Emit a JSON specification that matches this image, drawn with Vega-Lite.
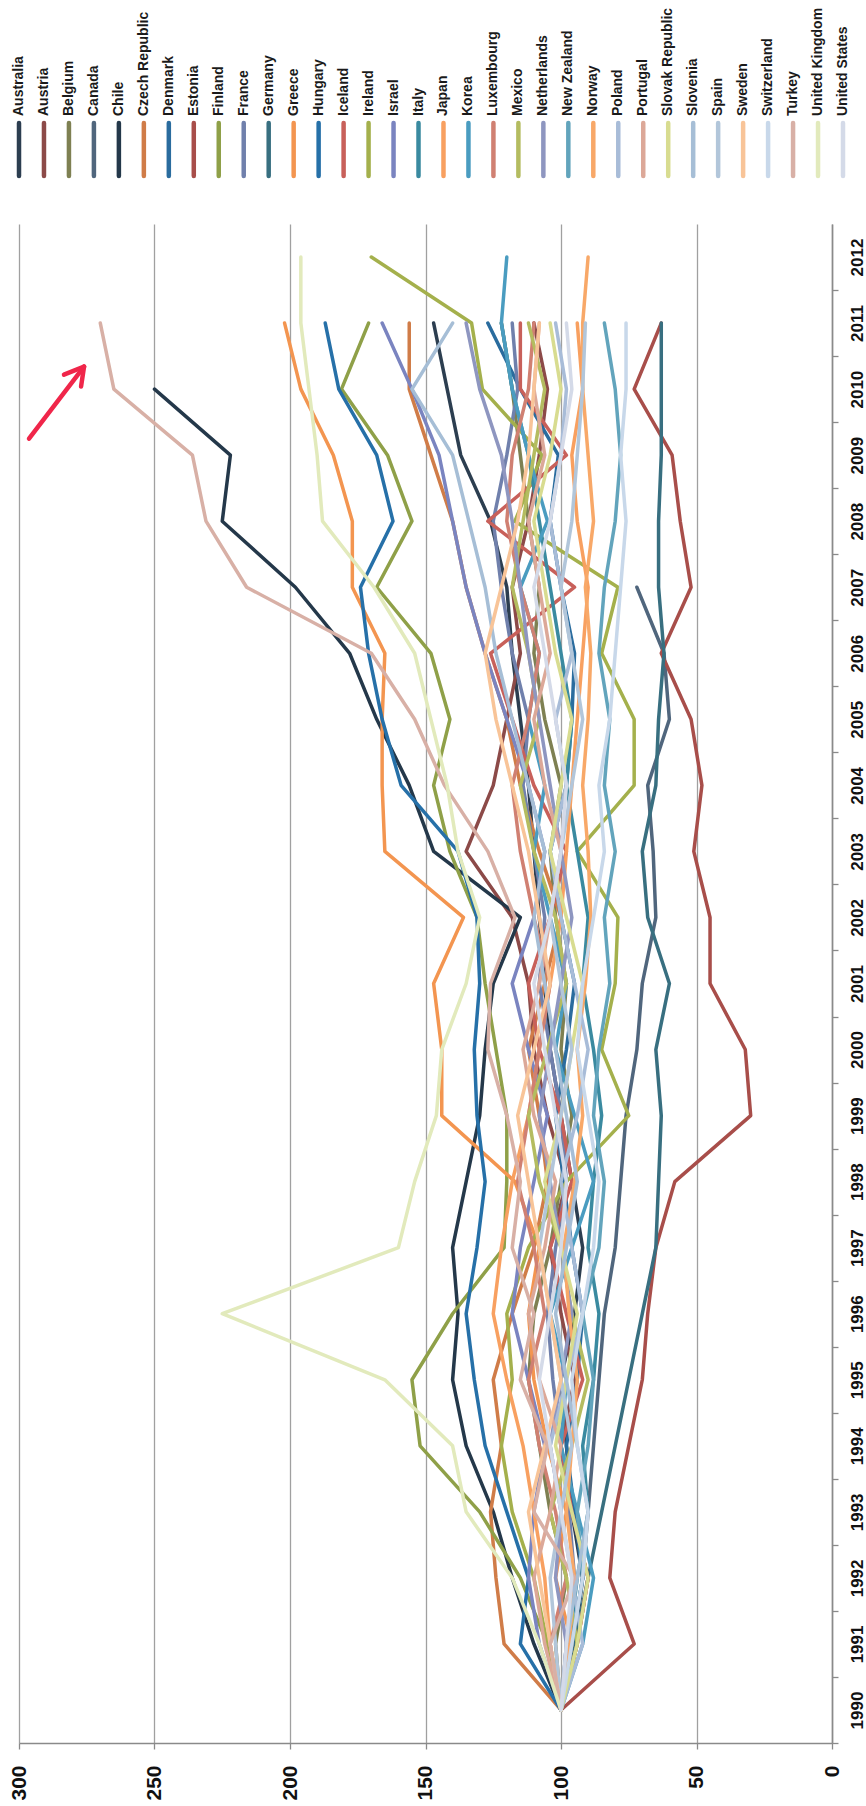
{
"$schema":"https://vega.github.io/schema/vega-lite/v6.json",
"background":"white",
"padding":{"left":8,"top":7,"right":0,"bottom":0},
"config":{"view":{"stroke":null},"font":"Liberation Sans"},
"spacing":45,
"datasets":{
"arrow":[{"value":296.3,"year":2009.25,"value2":276,"year2":2010.34},{"value":283.4,"year":2010.22,"value2":276,"year2":2010.34},{"value":277.1,"year":2010.04,"value2":276,"year2":2010.34}],
"series":[
{"country":"Australia","year":1990,"value":100},{"country":"Australia","year":1991,"value":95},{"country":"Australia","year":1992,"value":92},{"country":"Australia","year":1993,"value":96},{"country":"Australia","year":1994,"value":98},{"country":"Australia","year":1995,"value":100},{"country":"Australia","year":1996,"value":95},{"country":"Australia","year":1997,"value":92},{"country":"Australia","year":1998,"value":96},{"country":"Australia","year":1999,"value":100},{"country":"Australia","year":2000,"value":104},{"country":"Australia","year":2001,"value":106},{"country":"Australia","year":2002,"value":108},{"country":"Australia","year":2003,"value":110},{"country":"Australia","year":2004,"value":112},{"country":"Australia","year":2005,"value":115},{"country":"Australia","year":2006,"value":118},{"country":"Australia","year":2007,"value":120},{"country":"Australia","year":2008,"value":126},{"country":"Australia","year":2009,"value":137},{"country":"Australia","year":2010,"value":142},{"country":"Australia","year":2011,"value":147},
{"country":"Austria","year":1990,"value":100},{"country":"Austria","year":1991,"value":94},{"country":"Austria","year":1992,"value":90},{"country":"Austria","year":1993,"value":96},{"country":"Austria","year":1994,"value":100},{"country":"Austria","year":1995,"value":95},{"country":"Austria","year":1996,"value":100},{"country":"Austria","year":1997,"value":104},{"country":"Austria","year":1998,"value":98},{"country":"Austria","year":1999,"value":105},{"country":"Austria","year":2000,"value":110},{"country":"Austria","year":2001,"value":112},{"country":"Austria","year":2002,"value":118},{"country":"Austria","year":2003,"value":135},{"country":"Austria","year":2004,"value":125},{"country":"Austria","year":2005,"value":120},{"country":"Austria","year":2006,"value":115},{"country":"Austria","year":2007,"value":118},{"country":"Austria","year":2008,"value":112},{"country":"Austria","year":2009,"value":108},{"country":"Austria","year":2010,"value":105},{"country":"Austria","year":2011,"value":110},
{"country":"Belgium","year":1990,"value":100},{"country":"Belgium","year":1991,"value":102},{"country":"Belgium","year":1992,"value":98},{"country":"Belgium","year":1993,"value":104},{"country":"Belgium","year":1994,"value":108},{"country":"Belgium","year":1995,"value":112},{"country":"Belgium","year":1996,"value":110},{"country":"Belgium","year":1997,"value":104},{"country":"Belgium","year":1998,"value":100},{"country":"Belgium","year":1999,"value":96},{"country":"Belgium","year":2000,"value":100},{"country":"Belgium","year":2001,"value":98},{"country":"Belgium","year":2002,"value":102},{"country":"Belgium","year":2003,"value":104},{"country":"Belgium","year":2004,"value":100},{"country":"Belgium","year":2005,"value":106},{"country":"Belgium","year":2006,"value":110},{"country":"Belgium","year":2007,"value":108},{"country":"Belgium","year":2008,"value":112},{"country":"Belgium","year":2009,"value":115},{"country":"Belgium","year":2010,"value":118},{"country":"Belgium","year":2011,"value":122},
{"country":"Canada","year":1990,"value":100},{"country":"Canada","year":1991,"value":96},{"country":"Canada","year":1992,"value":92},{"country":"Canada","year":1993,"value":90},{"country":"Canada","year":1994,"value":88},{"country":"Canada","year":1995,"value":86},{"country":"Canada","year":1996,"value":84},{"country":"Canada","year":1997,"value":80},{"country":"Canada","year":1998,"value":78},{"country":"Canada","year":1999,"value":76},{"country":"Canada","year":2000,"value":72},{"country":"Canada","year":2001,"value":70},{"country":"Canada","year":2002,"value":65},{"country":"Canada","year":2003,"value":66},{"country":"Canada","year":2004,"value":68},{"country":"Canada","year":2005,"value":60},{"country":"Canada","year":2006,"value":62},{"country":"Canada","year":2007,"value":72},
{"country":"Chile","year":1990,"value":100},{"country":"Chile","year":1991,"value":110},{"country":"Chile","year":1992,"value":118},{"country":"Chile","year":1993,"value":125},{"country":"Chile","year":1994,"value":135},{"country":"Chile","year":1995,"value":140},{"country":"Chile","year":1996,"value":138},{"country":"Chile","year":1997,"value":140},{"country":"Chile","year":1998,"value":135},{"country":"Chile","year":1999,"value":130},{"country":"Chile","year":2000,"value":128},{"country":"Chile","year":2001,"value":125},{"country":"Chile","year":2002,"value":115},{"country":"Chile","year":2003,"value":147},{"country":"Chile","year":2004,"value":156},{"country":"Chile","year":2005,"value":168},{"country":"Chile","year":2006,"value":178},{"country":"Chile","year":2007,"value":198},{"country":"Chile","year":2008,"value":225},{"country":"Chile","year":2009,"value":222},{"country":"Chile","year":2010,"value":250},
{"country":"Czech Republic","year":1990,"value":100},{"country":"Czech Republic","year":1991,"value":121},{"country":"Czech Republic","year":1992,"value":124},{"country":"Czech Republic","year":1993,"value":126},{"country":"Czech Republic","year":1994,"value":122},{"country":"Czech Republic","year":1995,"value":125},{"country":"Czech Republic","year":1996,"value":118},{"country":"Czech Republic","year":1997,"value":110},{"country":"Czech Republic","year":1998,"value":105},{"country":"Czech Republic","year":1999,"value":108},{"country":"Czech Republic","year":2000,"value":112},{"country":"Czech Republic","year":2001,"value":106},{"country":"Czech Republic","year":2002,"value":100},{"country":"Czech Republic","year":2003,"value":108},{"country":"Czech Republic","year":2004,"value":115},{"country":"Czech Republic","year":2005,"value":120},{"country":"Czech Republic","year":2006,"value":128},{"country":"Czech Republic","year":2007,"value":135},{"country":"Czech Republic","year":2008,"value":140},{"country":"Czech Republic","year":2009,"value":148},{"country":"Czech Republic","year":2010,"value":156},{"country":"Czech Republic","year":2011,"value":156},
{"country":"Denmark","year":1990,"value":100},{"country":"Denmark","year":1991,"value":96},{"country":"Denmark","year":1992,"value":92},{"country":"Denmark","year":1993,"value":95},{"country":"Denmark","year":1994,"value":98},{"country":"Denmark","year":1995,"value":94},{"country":"Denmark","year":1996,"value":92},{"country":"Denmark","year":1997,"value":96},{"country":"Denmark","year":1998,"value":99},{"country":"Denmark","year":1999,"value":102},{"country":"Denmark","year":2000,"value":98},{"country":"Denmark","year":2001,"value":95},{"country":"Denmark","year":2002,"value":100},{"country":"Denmark","year":2003,"value":104},{"country":"Denmark","year":2004,"value":98},{"country":"Denmark","year":2005,"value":96},{"country":"Denmark","year":2006,"value":95},{"country":"Denmark","year":2007,"value":100},{"country":"Denmark","year":2008,"value":104},{"country":"Denmark","year":2009,"value":101},{"country":"Denmark","year":2010,"value":115},{"country":"Denmark","year":2011,"value":127},
{"country":"Estonia","year":1990,"value":100},{"country":"Estonia","year":1991,"value":73},{"country":"Estonia","year":1992,"value":82},{"country":"Estonia","year":1993,"value":80},{"country":"Estonia","year":1994,"value":75},{"country":"Estonia","year":1995,"value":70},{"country":"Estonia","year":1996,"value":68},{"country":"Estonia","year":1997,"value":65},{"country":"Estonia","year":1998,"value":58},{"country":"Estonia","year":1999,"value":30},{"country":"Estonia","year":2000,"value":32},{"country":"Estonia","year":2001,"value":45},{"country":"Estonia","year":2002,"value":45},{"country":"Estonia","year":2003,"value":51},{"country":"Estonia","year":2004,"value":48},{"country":"Estonia","year":2005,"value":52},{"country":"Estonia","year":2006,"value":63},{"country":"Estonia","year":2007,"value":52},{"country":"Estonia","year":2008,"value":56},{"country":"Estonia","year":2009,"value":59},{"country":"Estonia","year":2010,"value":73},{"country":"Estonia","year":2011,"value":63},
{"country":"Finland","year":1990,"value":100},{"country":"Finland","year":1991,"value":105},{"country":"Finland","year":1992,"value":115},{"country":"Finland","year":1993,"value":130},{"country":"Finland","year":1994,"value":152},{"country":"Finland","year":1995,"value":155},{"country":"Finland","year":1996,"value":140},{"country":"Finland","year":1997,"value":121},{"country":"Finland","year":1998,"value":120},{"country":"Finland","year":1999,"value":120},{"country":"Finland","year":2000,"value":124},{"country":"Finland","year":2001,"value":128},{"country":"Finland","year":2002,"value":131},{"country":"Finland","year":2003,"value":141},{"country":"Finland","year":2004,"value":147},{"country":"Finland","year":2005,"value":141},{"country":"Finland","year":2006,"value":148},{"country":"Finland","year":2007,"value":168},{"country":"Finland","year":2008,"value":155},{"country":"Finland","year":2009,"value":164},{"country":"Finland","year":2010,"value":181},{"country":"Finland","year":2011,"value":171},
{"country":"France","year":1990,"value":100},{"country":"France","year":1991,"value":98},{"country":"France","year":1992,"value":95},{"country":"France","year":1993,"value":97},{"country":"France","year":1994,"value":100},{"country":"France","year":1995,"value":103},{"country":"France","year":1996,"value":105},{"country":"France","year":1997,"value":102},{"country":"France","year":1998,"value":98},{"country":"France","year":1999,"value":100},{"country":"France","year":2000,"value":104},{"country":"France","year":2001,"value":108},{"country":"France","year":2002,"value":106},{"country":"France","year":2003,"value":110},{"country":"France","year":2004,"value":114},{"country":"France","year":2005,"value":112},{"country":"France","year":2006,"value":118},{"country":"France","year":2007,"value":122},{"country":"France","year":2008,"value":125},{"country":"France","year":2009,"value":120},{"country":"France","year":2010,"value":116},{"country":"France","year":2011,"value":118},
{"country":"Germany","year":1990,"value":100},{"country":"Germany","year":1991,"value":95},{"country":"Germany","year":1992,"value":90},{"country":"Germany","year":1993,"value":85},{"country":"Germany","year":1994,"value":80},{"country":"Germany","year":1995,"value":75},{"country":"Germany","year":1996,"value":70},{"country":"Germany","year":1997,"value":65},{"country":"Germany","year":1998,"value":64},{"country":"Germany","year":1999,"value":63},{"country":"Germany","year":2000,"value":65},{"country":"Germany","year":2001,"value":60},{"country":"Germany","year":2002,"value":68},{"country":"Germany","year":2003,"value":70},{"country":"Germany","year":2004,"value":65},{"country":"Germany","year":2005,"value":64},{"country":"Germany","year":2006,"value":62},{"country":"Germany","year":2007,"value":64},{"country":"Germany","year":2008,"value":64},{"country":"Germany","year":2009,"value":63},{"country":"Germany","year":2010,"value":63},{"country":"Germany","year":2011,"value":63},
{"country":"Greece","year":1990,"value":100},{"country":"Greece","year":1991,"value":96},{"country":"Greece","year":1992,"value":102},{"country":"Greece","year":1993,"value":98},{"country":"Greece","year":1994,"value":105},{"country":"Greece","year":1995,"value":110},{"country":"Greece","year":1996,"value":112},{"country":"Greece","year":1997,"value":108},{"country":"Greece","year":1998,"value":117},{"country":"Greece","year":1999,"value":144},{"country":"Greece","year":2000,"value":144},{"country":"Greece","year":2001,"value":147},{"country":"Greece","year":2002,"value":136},{"country":"Greece","year":2003,"value":165},{"country":"Greece","year":2004,"value":166},{"country":"Greece","year":2005,"value":166},{"country":"Greece","year":2006,"value":165},{"country":"Greece","year":2007,"value":177},{"country":"Greece","year":2008,"value":177},{"country":"Greece","year":2009,"value":184},{"country":"Greece","year":2010,"value":196},{"country":"Greece","year":2011,"value":202},
{"country":"Hungary","year":1990,"value":100},{"country":"Hungary","year":1991,"value":115},{"country":"Hungary","year":1992,"value":112},{"country":"Hungary","year":1993,"value":120},{"country":"Hungary","year":1994,"value":128},{"country":"Hungary","year":1995,"value":132},{"country":"Hungary","year":1996,"value":135},{"country":"Hungary","year":1997,"value":131},{"country":"Hungary","year":1998,"value":128},{"country":"Hungary","year":1999,"value":131},{"country":"Hungary","year":2000,"value":132},{"country":"Hungary","year":2001,"value":130},{"country":"Hungary","year":2002,"value":131},{"country":"Hungary","year":2003,"value":138},{"country":"Hungary","year":2004,"value":159},{"country":"Hungary","year":2005,"value":166},{"country":"Hungary","year":2006,"value":171},{"country":"Hungary","year":2007,"value":174},{"country":"Hungary","year":2008,"value":162},{"country":"Hungary","year":2009,"value":168},{"country":"Hungary","year":2010,"value":182},{"country":"Hungary","year":2011,"value":187},
{"country":"Iceland","year":1990,"value":100},{"country":"Iceland","year":1991,"value":94},{"country":"Iceland","year":1992,"value":90},{"country":"Iceland","year":1993,"value":96},{"country":"Iceland","year":1994,"value":100},{"country":"Iceland","year":1995,"value":92},{"country":"Iceland","year":1996,"value":98},{"country":"Iceland","year":1997,"value":104},{"country":"Iceland","year":1998,"value":96},{"country":"Iceland","year":1999,"value":100},{"country":"Iceland","year":2000,"value":108},{"country":"Iceland","year":2001,"value":112},{"country":"Iceland","year":2002,"value":104},{"country":"Iceland","year":2003,"value":98},{"country":"Iceland","year":2004,"value":110},{"country":"Iceland","year":2005,"value":118},{"country":"Iceland","year":2006,"value":126},{"country":"Iceland","year":2007,"value":95},{"country":"Iceland","year":2008,"value":127},{"country":"Iceland","year":2009,"value":98},{"country":"Iceland","year":2010,"value":115},{"country":"Iceland","year":2011,"value":115},
{"country":"Ireland","year":1990,"value":100},{"country":"Ireland","year":1991,"value":105},{"country":"Ireland","year":1992,"value":110},{"country":"Ireland","year":1993,"value":118},{"country":"Ireland","year":1994,"value":122},{"country":"Ireland","year":1995,"value":118},{"country":"Ireland","year":1996,"value":120},{"country":"Ireland","year":1997,"value":112},{"country":"Ireland","year":1998,"value":98},{"country":"Ireland","year":1999,"value":75},{"country":"Ireland","year":2000,"value":85},{"country":"Ireland","year":2001,"value":80},{"country":"Ireland","year":2002,"value":79},{"country":"Ireland","year":2003,"value":94},{"country":"Ireland","year":2004,"value":73},{"country":"Ireland","year":2005,"value":73},{"country":"Ireland","year":2006,"value":85},{"country":"Ireland","year":2007,"value":79},{"country":"Ireland","year":2008,"value":117},{"country":"Ireland","year":2009,"value":107},{"country":"Ireland","year":2010,"value":129},{"country":"Ireland","year":2011,"value":133},{"country":"Ireland","year":2012,"value":170},
{"country":"Israel","year":1990,"value":100},{"country":"Israel","year":1991,"value":108},{"country":"Israel","year":1992,"value":112},{"country":"Israel","year":1993,"value":110},{"country":"Israel","year":1994,"value":106},{"country":"Israel","year":1995,"value":112},{"country":"Israel","year":1996,"value":118},{"country":"Israel","year":1997,"value":115},{"country":"Israel","year":1998,"value":110},{"country":"Israel","year":1999,"value":105},{"country":"Israel","year":2000,"value":112},{"country":"Israel","year":2001,"value":118},{"country":"Israel","year":2002,"value":110},{"country":"Israel","year":2003,"value":106},{"country":"Israel","year":2004,"value":112},{"country":"Israel","year":2005,"value":120},{"country":"Israel","year":2006,"value":128},{"country":"Israel","year":2007,"value":135},{"country":"Israel","year":2008,"value":140},{"country":"Israel","year":2009,"value":145},{"country":"Israel","year":2010,"value":155},{"country":"Israel","year":2011,"value":166},
{"country":"Italy","year":1990,"value":100},{"country":"Italy","year":1991,"value":97},{"country":"Italy","year":1992,"value":94},{"country":"Italy","year":1993,"value":90},{"country":"Italy","year":1994,"value":92},{"country":"Italy","year":1995,"value":88},{"country":"Italy","year":1996,"value":86},{"country":"Italy","year":1997,"value":90},{"country":"Italy","year":1998,"value":88},{"country":"Italy","year":1999,"value":85},{"country":"Italy","year":2000,"value":88},{"country":"Italy","year":2001,"value":92},{"country":"Italy","year":2002,"value":90},{"country":"Italy","year":2003,"value":94},{"country":"Italy","year":2004,"value":98},{"country":"Italy","year":2005,"value":96},{"country":"Italy","year":2006,"value":100},{"country":"Italy","year":2007,"value":104},{"country":"Italy","year":2008,"value":108},{"country":"Italy","year":2009,"value":112},{"country":"Italy","year":2010,"value":118},{"country":"Italy","year":2011,"value":122},
{"country":"Japan","year":1990,"value":100},{"country":"Japan","year":1991,"value":104},{"country":"Japan","year":1992,"value":106},{"country":"Japan","year":1993,"value":110},{"country":"Japan","year":1994,"value":114},{"country":"Japan","year":1995,"value":120},{"country":"Japan","year":1996,"value":125},{"country":"Japan","year":1997,"value":122},{"country":"Japan","year":1998,"value":118},{"country":"Japan","year":1999,"value":112},{"country":"Japan","year":2000,"value":108},{"country":"Japan","year":2001,"value":104},{"country":"Japan","year":2002,"value":100},{"country":"Japan","year":2003,"value":98},{"country":"Japan","year":2004,"value":96},{"country":"Japan","year":2005,"value":94},{"country":"Japan","year":2006,"value":92},{"country":"Japan","year":2007,"value":90},{"country":"Japan","year":2008,"value":94},{"country":"Japan","year":2009,"value":96},{"country":"Japan","year":2010,"value":92},{"country":"Japan","year":2011,"value":94},
{"country":"Korea","year":1990,"value":100},{"country":"Korea","year":1991,"value":92},{"country":"Korea","year":1992,"value":88},{"country":"Korea","year":1993,"value":94},{"country":"Korea","year":1994,"value":100},{"country":"Korea","year":1995,"value":98},{"country":"Korea","year":1996,"value":104},{"country":"Korea","year":1997,"value":96},{"country":"Korea","year":1998,"value":88},{"country":"Korea","year":1999,"value":95},{"country":"Korea","year":2000,"value":102},{"country":"Korea","year":2001,"value":98},{"country":"Korea","year":2002,"value":104},{"country":"Korea","year":2003,"value":110},{"country":"Korea","year":2004,"value":106},{"country":"Korea","year":2005,"value":112},{"country":"Korea","year":2006,"value":108},{"country":"Korea","year":2007,"value":115},{"country":"Korea","year":2008,"value":105},{"country":"Korea","year":2009,"value":112},{"country":"Korea","year":2010,"value":118},{"country":"Korea","year":2011,"value":122},{"country":"Korea","year":2012,"value":120},
{"country":"Luxembourg","year":1990,"value":100},{"country":"Luxembourg","year":1991,"value":104},{"country":"Luxembourg","year":1992,"value":98},{"country":"Luxembourg","year":1993,"value":102},{"country":"Luxembourg","year":1994,"value":108},{"country":"Luxembourg","year":1995,"value":112},{"country":"Luxembourg","year":1996,"value":106},{"country":"Luxembourg","year":1997,"value":110},{"country":"Luxembourg","year":1998,"value":116},{"country":"Luxembourg","year":1999,"value":112},{"country":"Luxembourg","year":2000,"value":108},{"country":"Luxembourg","year":2001,"value":104},{"country":"Luxembourg","year":2002,"value":110},{"country":"Luxembourg","year":2003,"value":115},{"country":"Luxembourg","year":2004,"value":118},{"country":"Luxembourg","year":2005,"value":112},{"country":"Luxembourg","year":2006,"value":108},{"country":"Luxembourg","year":2007,"value":115},{"country":"Luxembourg","year":2008,"value":120},{"country":"Luxembourg","year":2009,"value":118},{"country":"Luxembourg","year":2010,"value":112},{"country":"Luxembourg","year":2011,"value":110},
{"country":"Mexico","year":1990,"value":100},{"country":"Mexico","year":1991,"value":94},{"country":"Mexico","year":1992,"value":98},{"country":"Mexico","year":1993,"value":104},{"country":"Mexico","year":1994,"value":96},{"country":"Mexico","year":1995,"value":90},{"country":"Mexico","year":1996,"value":96},{"country":"Mexico","year":1997,"value":100},{"country":"Mexico","year":1998,"value":108},{"country":"Mexico","year":1999,"value":112},{"country":"Mexico","year":2000,"value":105},{"country":"Mexico","year":2001,"value":98},{"country":"Mexico","year":2002,"value":102},{"country":"Mexico","year":2003,"value":110},{"country":"Mexico","year":2004,"value":115},{"country":"Mexico","year":2005,"value":108},{"country":"Mexico","year":2006,"value":112},{"country":"Mexico","year":2007,"value":118},{"country":"Mexico","year":2008,"value":114},{"country":"Mexico","year":2009,"value":110},{"country":"Mexico","year":2010,"value":106},{"country":"Mexico","year":2011,"value":112},
{"country":"Netherlands","year":1990,"value":100},{"country":"Netherlands","year":1991,"value":98},{"country":"Netherlands","year":1992,"value":102},{"country":"Netherlands","year":1993,"value":100},{"country":"Netherlands","year":1994,"value":104},{"country":"Netherlands","year":1995,"value":100},{"country":"Netherlands","year":1996,"value":96},{"country":"Netherlands","year":1997,"value":100},{"country":"Netherlands","year":1998,"value":104},{"country":"Netherlands","year":1999,"value":108},{"country":"Netherlands","year":2000,"value":104},{"country":"Netherlands","year":2001,"value":100},{"country":"Netherlands","year":2002,"value":96},{"country":"Netherlands","year":2003,"value":100},{"country":"Netherlands","year":2004,"value":104},{"country":"Netherlands","year":2005,"value":108},{"country":"Netherlands","year":2006,"value":112},{"country":"Netherlands","year":2007,"value":115},{"country":"Netherlands","year":2008,"value":118},{"country":"Netherlands","year":2009,"value":122},{"country":"Netherlands","year":2010,"value":130},{"country":"Netherlands","year":2011,"value":135},
{"country":"New Zealand","year":1990,"value":100},{"country":"New Zealand","year":1991,"value":96},{"country":"New Zealand","year":1992,"value":92},{"country":"New Zealand","year":1993,"value":94},{"country":"New Zealand","year":1994,"value":90},{"country":"New Zealand","year":1995,"value":88},{"country":"New Zealand","year":1996,"value":92},{"country":"New Zealand","year":1997,"value":86},{"country":"New Zealand","year":1998,"value":84},{"country":"New Zealand","year":1999,"value":88},{"country":"New Zealand","year":2000,"value":86},{"country":"New Zealand","year":2001,"value":82},{"country":"New Zealand","year":2002,"value":84},{"country":"New Zealand","year":2003,"value":80},{"country":"New Zealand","year":2004,"value":84},{"country":"New Zealand","year":2005,"value":82},{"country":"New Zealand","year":2006,"value":86},{"country":"New Zealand","year":2007,"value":84},{"country":"New Zealand","year":2008,"value":80},{"country":"New Zealand","year":2009,"value":78},{"country":"New Zealand","year":2010,"value":80},{"country":"New Zealand","year":2011,"value":84},
{"country":"Norway","year":1990,"value":100},{"country":"Norway","year":1991,"value":97},{"country":"Norway","year":1992,"value":95},{"country":"Norway","year":1993,"value":98},{"country":"Norway","year":1994,"value":96},{"country":"Norway","year":1995,"value":94},{"country":"Norway","year":1996,"value":97},{"country":"Norway","year":1997,"value":99},{"country":"Norway","year":1998,"value":95},{"country":"Norway","year":1999,"value":92},{"country":"Norway","year":2000,"value":94},{"country":"Norway","year":2001,"value":91},{"country":"Norway","year":2002,"value":89},{"country":"Norway","year":2003,"value":90},{"country":"Norway","year":2004,"value":92},{"country":"Norway","year":2005,"value":90},{"country":"Norway","year":2006,"value":89},{"country":"Norway","year":2007,"value":91},{"country":"Norway","year":2008,"value":88},{"country":"Norway","year":2009,"value":90},{"country":"Norway","year":2010,"value":92},{"country":"Norway","year":2011,"value":92},{"country":"Norway","year":2012,"value":90},
{"country":"Poland","year":1990,"value":100},{"country":"Poland","year":1991,"value":92},{"country":"Poland","year":1992,"value":96},{"country":"Poland","year":1993,"value":100},{"country":"Poland","year":1994,"value":104},{"country":"Poland","year":1995,"value":98},{"country":"Poland","year":1996,"value":92},{"country":"Poland","year":1997,"value":96},{"country":"Poland","year":1998,"value":100},{"country":"Poland","year":1999,"value":94},{"country":"Poland","year":2000,"value":90},{"country":"Poland","year":2001,"value":95},{"country":"Poland","year":2002,"value":100},{"country":"Poland","year":2003,"value":104},{"country":"Poland","year":2004,"value":98},{"country":"Poland","year":2005,"value":102},{"country":"Poland","year":2006,"value":96},{"country":"Poland","year":2007,"value":100},{"country":"Poland","year":2008,"value":104},{"country":"Poland","year":2009,"value":100},{"country":"Poland","year":2010,"value":98},{"country":"Poland","year":2011,"value":102},
{"country":"Portugal","year":1990,"value":100},{"country":"Portugal","year":1991,"value":106},{"country":"Portugal","year":1992,"value":110},{"country":"Portugal","year":1993,"value":104},{"country":"Portugal","year":1994,"value":100},{"country":"Portugal","year":1995,"value":108},{"country":"Portugal","year":1996,"value":112},{"country":"Portugal","year":1997,"value":106},{"country":"Portugal","year":1998,"value":102},{"country":"Portugal","year":1999,"value":110},{"country":"Portugal","year":2000,"value":114},{"country":"Portugal","year":2001,"value":108},{"country":"Portugal","year":2002,"value":104},{"country":"Portugal","year":2003,"value":100},{"country":"Portugal","year":2004,"value":106},{"country":"Portugal","year":2005,"value":110},{"country":"Portugal","year":2006,"value":104},{"country":"Portugal","year":2007,"value":108},{"country":"Portugal","year":2008,"value":112},{"country":"Portugal","year":2009,"value":106},{"country":"Portugal","year":2010,"value":110},{"country":"Portugal","year":2011,"value":108},
{"country":"Slovak Republic","year":1990,"value":100},{"country":"Slovak Republic","year":1991,"value":94},{"country":"Slovak Republic","year":1992,"value":90},{"country":"Slovak Republic","year":1993,"value":96},{"country":"Slovak Republic","year":1994,"value":102},{"country":"Slovak Republic","year":1995,"value":98},{"country":"Slovak Republic","year":1996,"value":94},{"country":"Slovak Republic","year":1997,"value":100},{"country":"Slovak Republic","year":1998,"value":106},{"country":"Slovak Republic","year":1999,"value":100},{"country":"Slovak Republic","year":2000,"value":96},{"country":"Slovak Republic","year":2001,"value":92},{"country":"Slovak Republic","year":2002,"value":98},{"country":"Slovak Republic","year":2003,"value":104},{"country":"Slovak Republic","year":2004,"value":100},{"country":"Slovak Republic","year":2005,"value":96},{"country":"Slovak Republic","year":2006,"value":102},{"country":"Slovak Republic","year":2007,"value":106},{"country":"Slovak Republic","year":2008,"value":110},{"country":"Slovak Republic","year":2009,"value":104},{"country":"Slovak Republic","year":2010,"value":100},{"country":"Slovak Republic","year":2011,"value":104},
{"country":"Slovenia","year":1990,"value":100},{"country":"Slovenia","year":1991,"value":98},{"country":"Slovenia","year":1992,"value":94},{"country":"Slovenia","year":1993,"value":90},{"country":"Slovenia","year":1994,"value":94},{"country":"Slovenia","year":1995,"value":98},{"country":"Slovenia","year":1996,"value":102},{"country":"Slovenia","year":1997,"value":98},{"country":"Slovenia","year":1998,"value":94},{"country":"Slovenia","year":1999,"value":98},{"country":"Slovenia","year":2000,"value":102},{"country":"Slovenia","year":2001,"value":106},{"country":"Slovenia","year":2002,"value":110},{"country":"Slovenia","year":2003,"value":106},{"country":"Slovenia","year":2004,"value":112},{"country":"Slovenia","year":2005,"value":118},{"country":"Slovenia","year":2006,"value":124},{"country":"Slovenia","year":2007,"value":128},{"country":"Slovenia","year":2008,"value":134},{"country":"Slovenia","year":2009,"value":140},{"country":"Slovenia","year":2010,"value":155},{"country":"Slovenia","year":2011,"value":140},
{"country":"Spain","year":1990,"value":100},{"country":"Spain","year":1991,"value":102},{"country":"Spain","year":1992,"value":104},{"country":"Spain","year":1993,"value":100},{"country":"Spain","year":1994,"value":96},{"country":"Spain","year":1995,"value":100},{"country":"Spain","year":1996,"value":104},{"country":"Spain","year":1997,"value":108},{"country":"Spain","year":1998,"value":104},{"country":"Spain","year":1999,"value":100},{"country":"Spain","year":2000,"value":96},{"country":"Spain","year":2001,"value":100},{"country":"Spain","year":2002,"value":104},{"country":"Spain","year":2003,"value":100},{"country":"Spain","year":2004,"value":96},{"country":"Spain","year":2005,"value":92},{"country":"Spain","year":2006,"value":96},{"country":"Spain","year":2007,"value":100},{"country":"Spain","year":2008,"value":96},{"country":"Spain","year":2009,"value":94},{"country":"Spain","year":2010,"value":92},{"country":"Spain","year":2011,"value":91},
{"country":"Sweden","year":1990,"value":100},{"country":"Sweden","year":1991,"value":104},{"country":"Sweden","year":1992,"value":108},{"country":"Sweden","year":1993,"value":112},{"country":"Sweden","year":1994,"value":106},{"country":"Sweden","year":1995,"value":100},{"country":"Sweden","year":1996,"value":104},{"country":"Sweden","year":1997,"value":108},{"country":"Sweden","year":1998,"value":112},{"country":"Sweden","year":1999,"value":116},{"country":"Sweden","year":2000,"value":110},{"country":"Sweden","year":2001,"value":104},{"country":"Sweden","year":2002,"value":108},{"country":"Sweden","year":2003,"value":112},{"country":"Sweden","year":2004,"value":118},{"country":"Sweden","year":2005,"value":124},{"country":"Sweden","year":2006,"value":128},{"country":"Sweden","year":2007,"value":122},{"country":"Sweden","year":2008,"value":116},{"country":"Sweden","year":2009,"value":112},{"country":"Sweden","year":2010,"value":110},{"country":"Sweden","year":2011,"value":108},
{"country":"Switzerland","year":1990,"value":100},{"country":"Switzerland","year":1991,"value":96},{"country":"Switzerland","year":1992,"value":92},{"country":"Switzerland","year":1993,"value":90},{"country":"Switzerland","year":1994,"value":94},{"country":"Switzerland","year":1995,"value":96},{"country":"Switzerland","year":1996,"value":92},{"country":"Switzerland","year":1997,"value":88},{"country":"Switzerland","year":1998,"value":86},{"country":"Switzerland","year":1999,"value":90},{"country":"Switzerland","year":2000,"value":94},{"country":"Switzerland","year":2001,"value":92},{"country":"Switzerland","year":2002,"value":88},{"country":"Switzerland","year":2003,"value":84},{"country":"Switzerland","year":2004,"value":86},{"country":"Switzerland","year":2005,"value":82},{"country":"Switzerland","year":2006,"value":80},{"country":"Switzerland","year":2007,"value":78},{"country":"Switzerland","year":2008,"value":76},{"country":"Switzerland","year":2009,"value":78},{"country":"Switzerland","year":2010,"value":76},{"country":"Switzerland","year":2011,"value":76},
{"country":"Turkey","year":1990,"value":100},{"country":"Turkey","year":1991,"value":104},{"country":"Turkey","year":1992,"value":95},{"country":"Turkey","year":1993,"value":110},{"country":"Turkey","year":1994,"value":105},{"country":"Turkey","year":1995,"value":115},{"country":"Turkey","year":1996,"value":110},{"country":"Turkey","year":1997,"value":118},{"country":"Turkey","year":1998,"value":115},{"country":"Turkey","year":1999,"value":120},{"country":"Turkey","year":2000,"value":127},{"country":"Turkey","year":2001,"value":126},{"country":"Turkey","year":2002,"value":117},{"country":"Turkey","year":2003,"value":127},{"country":"Turkey","year":2004,"value":143},{"country":"Turkey","year":2005,"value":154},{"country":"Turkey","year":2006,"value":170},{"country":"Turkey","year":2007,"value":216},{"country":"Turkey","year":2008,"value":231},{"country":"Turkey","year":2009,"value":236},{"country":"Turkey","year":2010,"value":265},{"country":"Turkey","year":2011,"value":270},
{"country":"United Kingdom","year":1990,"value":100},{"country":"United Kingdom","year":1991,"value":108},{"country":"United Kingdom","year":1992,"value":118},{"country":"United Kingdom","year":1993,"value":135},{"country":"United Kingdom","year":1994,"value":140},{"country":"United Kingdom","year":1995,"value":165},{"country":"United Kingdom","year":1996,"value":225},{"country":"United Kingdom","year":1997,"value":160},{"country":"United Kingdom","year":1998,"value":154},{"country":"United Kingdom","year":1999,"value":146},{"country":"United Kingdom","year":2000,"value":144},{"country":"United Kingdom","year":2001,"value":135},{"country":"United Kingdom","year":2002,"value":130},{"country":"United Kingdom","year":2003,"value":138},{"country":"United Kingdom","year":2004,"value":142},{"country":"United Kingdom","year":2005,"value":148},{"country":"United Kingdom","year":2006,"value":154},{"country":"United Kingdom","year":2007,"value":169},{"country":"United Kingdom","year":2008,"value":188},{"country":"United Kingdom","year":2009,"value":190},{"country":"United Kingdom","year":2010,"value":193},{"country":"United Kingdom","year":2011,"value":196},{"country":"United Kingdom","year":2012,"value":196},
{"country":"United States","year":1990,"value":100},{"country":"United States","year":1991,"value":98},{"country":"United States","year":1992,"value":96},{"country":"United States","year":1993,"value":100},{"country":"United States","year":1994,"value":104},{"country":"United States","year":1995,"value":108},{"country":"United States","year":1996,"value":104},{"country":"United States","year":1997,"value":100},{"country":"United States","year":1998,"value":98},{"country":"United States","year":1999,"value":102},{"country":"United States","year":2000,"value":106},{"country":"United States","year":2001,"value":110},{"country":"United States","year":2002,"value":104},{"country":"United States","year":2003,"value":100},{"country":"United States","year":2004,"value":98},{"country":"United States","year":2005,"value":102},{"country":"United States","year":2006,"value":106},{"country":"United States","year":2007,"value":110},{"country":"United States","year":2008,"value":104},{"country":"United States","year":2009,"value":100},{"country":"United States","year":2010,"value":96},{"country":"United States","year":2011,"value":98}
]},
"vconcat":[
{
"width":824,"height":53,
"data":{"name":"series"},
"transform":[{"filter":"datum.year == 1990"}],
"encoding":{"x":{"field":"country","type":"nominal","sort":null,"scale":{"type":"point","padding":0},"axis":null}},
"layer":[
{"mark":{"type":"rule","strokeWidth":4.5,"strokeCap":"round"},
"encoding":{"color":{"field":"country","type":"nominal","legend":null,
"scale":{"domain":["Australia","Austria","Belgium","Canada","Chile","Czech Republic","Denmark","Estonia","Finland","France","Germany","Greece","Hungary","Iceland","Ireland","Israel","Italy","Japan","Korea","Luxembourg","Mexico","Netherlands","New Zealand","Norway","Poland","Portugal","Slovak Republic","Slovenia","Spain","Sweden","Switzerland","Turkey","United Kingdom","United States"],
"range":["#2c3e50","#8c4a48","#7e8052","#50667d","#24384a","#d07c48","#2a6c9e","#a84e4a","#8fa048","#7080ac","#386f80","#f39550","#2670a8","#c8605a","#a4b04c","#7a84c0","#3a8aa0","#f8a060","#4a9cc0","#d08072","#b4bc60","#8e96c0","#62a4bc","#f8a868","#a8bcd8","#dca898","#d8dc90","#a6bed6","#b2c6da","#f8c498","#c8d8ea","#d8b0a6","#e2eabc","#d4dae8"]}}}},
{"mark":{"type":"text","angle":270,"align":"left","baseline":"middle","dx":7,"fontSize":14,"fontWeight":"bold","font":"Liberation Sans","color":"#1a1a1a"},
"encoding":{"text":{"field":"country"},"y":{"value":0}}}
]
},
{
"width":813,"height":1519,
"layer":[
{"data":{"name":"series"},
"mark":{"type":"line","strokeWidth":3.5,"strokeJoin":"round","strokeCap":"round"},
"encoding":{
"x":{"field":"value","type":"quantitative","scale":{"domain":[0,300],"reverse":true,"nice":false,"zero":false},
"axis":{"values":[0,50,100,150,200,250,300],"title":null,"grid":true,"gridColor":"#a0a0a0","gridWidth":1.3,"domainColor":"#8a8a8a","domainWidth":1.6,"tickColor":"#8a8a8a","tickWidth":1.3,"tickSize":6,"labelAngle":270,"labelFontSize":21,"labelFont":"Liberation Sans","labelFontWeight":"bold","labelColor":"#111111","labelPadding":16}},
"y":{"field":"year","type":"quantitative","scale":{"domain":[1989.5,2012.5],"nice":false,"zero":false},
"axis":{"orient":"right","values":[1990,1991,1992,1993,1994,1995,1996,1997,1998,1999,2000,2001,2002,2003,2004,2005,2006,2007,2008,2009,2010,2011,2012],"format":"d","title":null,"grid":false,"domainColor":"#8a8a8a","domainWidth":1.6,"tickColor":"#8a8a8a","tickWidth":1.3,"tickSize":6,"tickOffset":33,"labelOffset":-33,"labelAngle":270,"labelAlign":"center","labelBaseline":"top","labelFontSize":17,"labelFont":"Liberation Sans","labelFontWeight":"bold","labelColor":"#111111","labelPadding":11,"labelOverlap":false}},
"color":{"field":"country","type":"nominal","legend":null,
"scale":{"domain":["Australia","Austria","Belgium","Canada","Chile","Czech Republic","Denmark","Estonia","Finland","France","Germany","Greece","Hungary","Iceland","Ireland","Israel","Italy","Japan","Korea","Luxembourg","Mexico","Netherlands","New Zealand","Norway","Poland","Portugal","Slovak Republic","Slovenia","Spain","Sweden","Switzerland","Turkey","United Kingdom","United States"],
"range":["#2c3e50","#8c4a48","#7e8052","#50667d","#24384a","#d07c48","#2a6c9e","#a84e4a","#8fa048","#7080ac","#386f80","#f39550","#2670a8","#c8605a","#a4b04c","#7a84c0","#3a8aa0","#f8a060","#4a9cc0","#d08072","#b4bc60","#8e96c0","#62a4bc","#f8a868","#a8bcd8","#dca898","#d8dc90","#a6bed6","#b2c6da","#f8c498","#c8d8ea","#d8b0a6","#e2eabc","#d4dae8"]}},
"order":{"field":"year","type":"quantitative"}
}},
{"data":{"name":"arrow"},
"mark":{"type":"rule","color":"#f0264a","strokeWidth":4.5,"strokeCap":"round"},
"encoding":{"x":{"field":"value","type":"quantitative"},"y":{"field":"year","type":"quantitative"},"x2":{"field":"value2"},"y2":{"field":"year2"}}}
]
}
]
}
